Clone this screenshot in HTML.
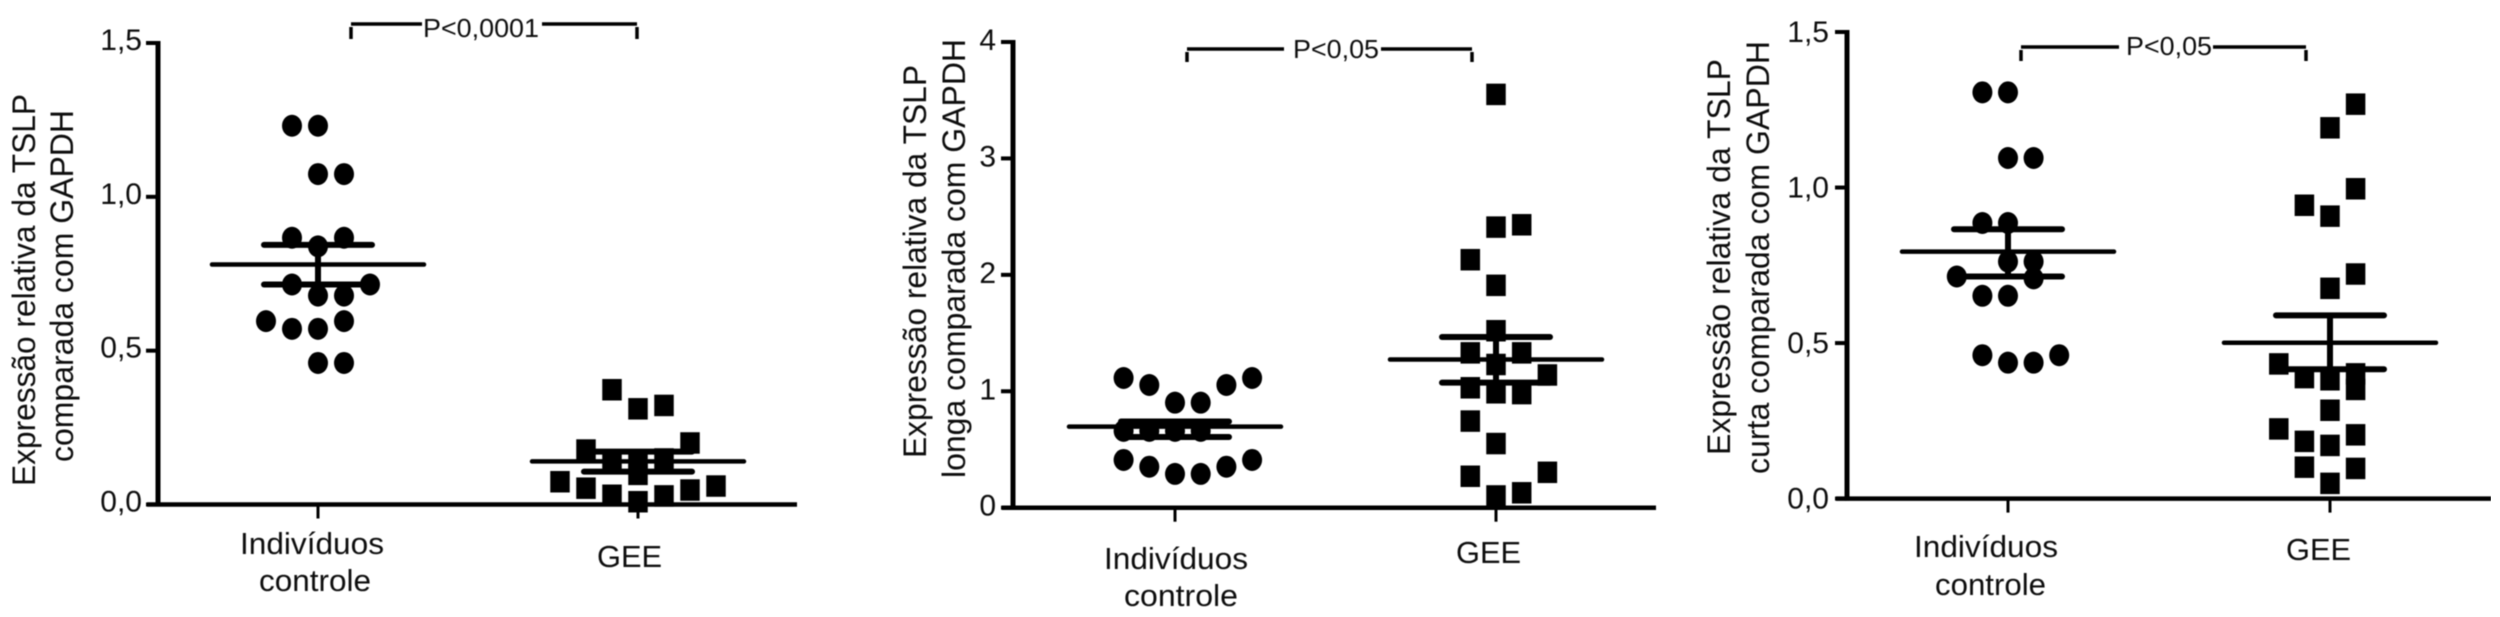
<!DOCTYPE html>
<html lang="pt">
<head>
<meta charset="utf-8">
<title>Expressão relativa da TSLP</title>
<style>
html,body{margin:0;padding:0;background:#fff;}
svg{display:block;font-family:"Liberation Sans",Arial,sans-serif;fill:#111;}
.title{font-size:32px;}
.cat{font-size:31px;}
.tick{font-size:30px;text-anchor:end;}
.pval{font-size:26px;}
</style>
</head>
<body>
<svg id="figure" width="2500" height="617" viewBox="0 0 2500 617" xmlns="http://www.w3.org/2000/svg">
  <defs>
    <filter id="soften" x="0" y="0" width="100%" height="100%"><feGaussianBlur stdDeviation="0.6"/></filter>
  </defs>
  <rect width="2500" height="617" fill="#fff"/>

  <g filter="url(#soften)">
  <g>
    <text class="title" transform="translate(35,486) rotate(-90)" textLength="392" lengthAdjust="spacingAndGlyphs">Expressão relativa da TSLP</text>
    <text class="title" transform="translate(73,462) rotate(-90)" textLength="352" lengthAdjust="spacingAndGlyphs">comparada com GAPDH</text>
    <text class="cat" x="240" y="554" textLength="144" lengthAdjust="spacingAndGlyphs">Indivíduos</text>
    <text class="cat" x="259" y="591" textLength="112" lengthAdjust="spacingAndGlyphs">controle</text>
    <text class="cat" x="597" y="567" textLength="65" lengthAdjust="spacingAndGlyphs">GEE</text>
    <text class="pval" x="423" y="37" textLength="116" lengthAdjust="spacingAndGlyphs">P&lt;0,0001</text>
  </g>

  <g>
    <text class="title" transform="translate(926,458) rotate(-90)" textLength="393" lengthAdjust="spacingAndGlyphs">Expressão relativa da TSLP</text>
    <text class="title" transform="translate(965,478) rotate(-90)" textLength="439" lengthAdjust="spacingAndGlyphs">longa comparada com GAPDH</text>
    <text class="cat" x="1104" y="569" textLength="144" lengthAdjust="spacingAndGlyphs">Indivíduos</text>
    <text class="cat" x="1124" y="606" textLength="114" lengthAdjust="spacingAndGlyphs">controle</text>
    <text class="cat" x="1456" y="563" textLength="65" lengthAdjust="spacingAndGlyphs">GEE</text>
    <text class="pval" x="1293" y="58" textLength="86" lengthAdjust="spacingAndGlyphs">P&lt;0,05</text>
  </g>

  <g>
    <text class="title" transform="translate(1730,455) rotate(-90)" textLength="396" lengthAdjust="spacingAndGlyphs">Expressão relativa da TSLP</text>
    <text class="title" transform="translate(1769,474) rotate(-90)" textLength="433" lengthAdjust="spacingAndGlyphs">curta comparada com GAPDH</text>
    <text class="cat" x="1914" y="557" textLength="144" lengthAdjust="spacingAndGlyphs">Indivíduos</text>
    <text class="cat" x="1935" y="595" textLength="111" lengthAdjust="spacingAndGlyphs">controle</text>
    <text class="cat" x="2286" y="560" textLength="65" lengthAdjust="spacingAndGlyphs">GEE</text>
    <text class="pval" x="2126" y="55" textLength="86" lengthAdjust="spacingAndGlyphs">P&lt;0,05</text>
  </g>

  <g id="marks"></g>
  </g>
</svg>

<script>
/* Panel 1: TSLP total */
const totalTickValues = [0, 0.5, 1, 1.5];
const totalTickLabels = ["0,0", "0,5", "1,0", "1,5"];
const totalControlValues = [1.231, 1.231, 1.074, 1.074, 0.867, 0.867, 0.839, 0.715, 0.715, 0.679, 0.679, 0.596, 0.596, 0.571, 0.571, 0.46, 0.46];
const totalControlColumns = [-1, 0, 0, 1, -1, 1, 0, -1, 2, 0, 1, -2, 1, -1, 0, 0, 1];
const totalGeeValues = [0.373, 0.311, 0.322, 0.177, 0.2, 0.144, 0.148, 0.139, 0.098, 0.074, 0.053, 0.03, 0.009, 0.028, 0.047, 0.06];
const totalGeeColumns = [-1, 0, 1, -2, 2, -1, 1, 0, 0, -3, -2, -1, 0, 1, 2, 3];
const totalMeans = [0.78, 0.14];
const totalUpper = [0.844, 0.172];
const totalLower = [0.715, 0.107];

/* Panel 2: TSLP longa */
const longaTickValues = [0, 1, 2, 3, 4];
const longaTickLabels = ["0", "1", "2", "3", "4"];
const longaControlValues = [1.114, 1.054, 0.902, 0.902, 1.054, 1.114, 0.66, 0.66, 0.66, 0.66, 0.41, 0.352, 0.29, 0.29, 0.352, 0.41];
const longaControlColumns = [-2, -1, 0, 1, 2, 3, -2, -1, 0, 1, -2, -1, 0, 1, 2, 3];
const longaGeeValues = [3.55, 2.43, 2.41, 2.13, 1.91, 1.52, 1.33, 1.33, 1.23, 1.14, 1.03, 0.987, 0.98, 0.744, 0.551, 0.304, 0.27, 0.128, 0.101];
const longaGeeColumns = [0, 1, 0, -1, 0, 0, -1, 1, 0, 2, -1, 0, 1, -1, 0, 2, -1, 1, 0];
const longaMeans = [0.696, 1.273];
const longaUpper = [0.74, 1.466];
const longaLower = [0.607, 1.074];

/* Panel 3: TSLP curta */
const curtaTickValues = [0, 0.5, 1, 1.5];
const curtaTickLabels = ["0,0", "0,5", "1,0", "1,5"];
const curtaControlValues = [1.306, 1.306, 1.095, 1.095, 0.886, 0.886, 0.762, 0.762, 0.714, 0.708, 0.652, 0.652, 0.461, 0.437, 0.437, 0.461];
const curtaControlColumns = [-1, 0, 0, 1, -1, 0, 0, 1, -2, 1, -1, 0, -1, 0, 1, 2];
const curtaGeeValues = [1.268, 1.192, 0.996, 0.943, 0.908, 0.722, 0.676, 0.433, 0.389, 0.382, 0.401, 0.351, 0.284, 0.224, 0.205, 0.184, 0.171, 0.101, 0.097, 0.049];
const curtaGeeColumns = [1, 0, 1, -1, 0, 1, 0, -2, -1, 0, 1, 1, 0, -2, 1, -1, 0, -1, 1, 0];
const curtaMeans = [0.794, 0.501];
const curtaUpper = [0.866, 0.589];
const curtaLower = [0.714, 0.416];

const NS = "http://www.w3.org/2000/svg";
const marks = document.getElementById("marks");

function addLine(parent, x1, y1, x2, y2, width, name, round) {
  const el = document.createElementNS(NS, "line");
  el.setAttribute("x1", x1);
  el.setAttribute("y1", y1);
  el.setAttribute("x2", x2);
  el.setAttribute("y2", y2);
  el.setAttribute("stroke", "#000");
  el.setAttribute("stroke-width", width);
  if (round) el.setAttribute("stroke-linecap", "round");
  
  
  parent.appendChild(el);
  return el;
}

function drawPanel(cfg) {
  const g = document.createElementNS(NS, "g");
  
  
  marks.appendChild(g);

  const yScale = v => cfg.yZero - (v / cfg.yMax) * (cfg.yZero - cfg.yTop);
  const xScale = (category, column) => cfg.xCats[category] + column * cfg.columnStep;

  /* axes */
  addLine(g, cfg.axisX, cfg.yTop - 2, cfg.axisX, cfg.yZero + 2, 5, "y-axis");
  addLine(g, cfg.axisX - 11, cfg.yZero, cfg.xEnd, cfg.yZero, 4.5, "x-axis");
  cfg.ticks.forEach((v, i) => {
    addLine(g, cfg.axisX - 12, yScale(v), cfg.axisX, yScale(v), 4, "y-tick");
    const t = document.createElementNS(NS, "text");
    t.setAttribute("class", "tick");
    t.setAttribute("x", cfg.labelRight);
    t.setAttribute("y", yScale(v) + cfg.labelDy);
    
    
    t.textContent = cfg.tickLabels[i];
    g.appendChild(t);
  });
  cfg.xCats.forEach(x => {
    addLine(g, x, cfg.yZero, x, cfg.yZero + 14, 3, "x-tick");
  });

  /* significance bracket */
  const br = cfg.bracket;
  addLine(g, br.left, br.bottom, br.left, br.y + 3, 3.5, "bracket-left-leg");
  addLine(g, br.right, br.bottom, br.right, br.y + 3, 3.5, "bracket-right-leg");
  addLine(g, br.left, br.y, br.gapLeft, br.y, 3.5, "bracket-left-bar");
  addLine(g, br.gapRight, br.y, br.right, br.y, 3.5, "bracket-right-bar");

  /* control points: circles */
  cfg.controlValues.forEach((v, i) => {
    const c = document.createElementNS(NS, "ellipse");
    c.setAttribute("cx", xScale(0, cfg.controlColumns[i]));
    c.setAttribute("cy", yScale(v));
    c.setAttribute("rx", 10);
    c.setAttribute("ry", 11);
    c.setAttribute("fill", "#000");
    
    
    g.appendChild(c);
  });

  /* GEE points: squares */
  cfg.geeValues.forEach((v, i) => {
    const r = document.createElementNS(NS, "rect");
    r.setAttribute("x", xScale(1, cfg.geeColumns[i]) - 9.75);
    r.setAttribute("y", yScale(v) - 10.75);
    r.setAttribute("width", 19.5);
    r.setAttribute("height", 21.5);
    r.setAttribute("fill", "#000");
    
    
    g.appendChild(r);
  });

  /* mean and SEM bars */
  cfg.means.forEach((m, i) => {
    const x = cfg.xCats[i];
    addLine(g, x - 106, yScale(m), x + 106, yScale(m), 4.5, "mean-line", true);
    addLine(g, x, yScale(cfg.upper[i]), x, yScale(cfg.lower[i]), 6, "error-bar");
    addLine(g, x - 54, yScale(cfg.upper[i]), x + 54, yScale(cfg.upper[i]), 6, "error-cap-upper", true);
    addLine(g, x - 54, yScale(cfg.lower[i]), x + 54, yScale(cfg.lower[i]), 6, "error-cap-lower", true);
  });
}

drawPanel({
  name: "panel-total", yMax: 1.5, yTop: 43, yZero: 504.5, axisX: 158, xEnd: 797,
  xCats: [318, 638], columnStep: 26, labelRight: 142, labelDy: 7,
  bracket: { left: 351, right: 637, y: 24, bottom: 39, gapLeft: 422, gapRight: 542 },
  ticks: totalTickValues, tickLabels: totalTickLabels,
  controlValues: totalControlValues, controlColumns: totalControlColumns,
  geeValues: totalGeeValues, geeColumns: totalGeeColumns,
  means: totalMeans, upper: totalUpper, lower: totalLower
});
drawPanel({
  name: "panel-longa", yMax: 4, yTop: 42, yZero: 507.7, axisX: 1013, xEnd: 1656,
  xCats: [1175, 1496], columnStep: 25.7, labelRight: 996, labelDy: 8,
  bracket: { left: 1187, right: 1472, y: 49, bottom: 62, gapLeft: 1284, gapRight: 1381 },
  ticks: longaTickValues, tickLabels: longaTickLabels,
  controlValues: longaControlValues, controlColumns: longaControlColumns,
  geeValues: longaGeeValues, geeColumns: longaGeeColumns,
  means: longaMeans, upper: longaUpper, lower: longaLower
});
drawPanel({
  name: "panel-curta", yMax: 1.5, yTop: 32, yZero: 498.6, axisX: 1847, xEnd: 2491,
  xCats: [2008, 2330], columnStep: 25.6, labelRight: 1829, labelDy: 10,
  bracket: { left: 2021, right: 2306, y: 47, bottom: 61, gapLeft: 2119, gapRight: 2213 },
  ticks: curtaTickValues, tickLabels: curtaTickLabels,
  controlValues: curtaControlValues, controlColumns: curtaControlColumns,
  geeValues: curtaGeeValues, geeColumns: curtaGeeColumns,
  means: curtaMeans, upper: curtaUpper, lower: curtaLower
});
</script>
</body>
</html>
